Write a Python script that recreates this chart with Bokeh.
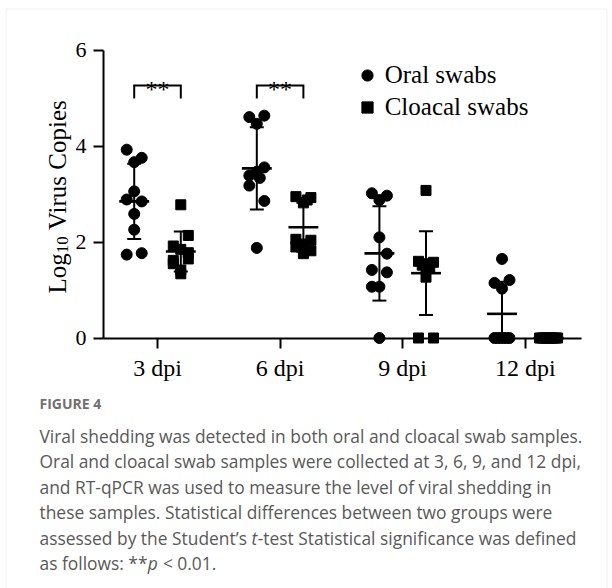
import numpy as np
from math import pi
from bokeh.plotting import figure
from bokeh.models import Range1d, FixedTicker, Label, Legend, LegendItem, BoxAnnotation
from bokeh.core.properties import value
from bokeh.embed import file_html
from bokeh.resources import INLINE

# ---------------- data ----------------
categories = ["3 dpi", "6 dpi", "9 dpi", "12 dpi"]
oral_3dpi = [3.93, 3.76, 3.67, 3.06, 2.89, 2.85, 2.59, 2.26, 1.74, 1.77]
oral_6dpi = [4.61, 4.64, 4.47, 3.56, 3.47, 3.39, 3.34, 3.18, 2.86, 1.88]
oral_9dpi = [3.02, 2.97, 2.88, 2.10, 1.76, 1.42, 1.37, 1.07, 1.07, 0.0]
oral_12dpi = [1.65, 1.15, 1.21, 1.03, 0.0, 0.0, 0.0, 0.0, 0.0, 0.0]
cloacal_3dpi = [2.78, 2.14, 1.92, 1.85, 1.78, 1.65, 1.62, 1.55, 1.42, 1.34]
cloacal_6dpi = [2.95, 2.93, 2.88, 2.82, 2.06, 2.04, 1.96, 1.90, 1.82, 1.76]
cloacal_9dpi = [3.08, 1.60, 1.58, 1.55, 1.52, 1.48, 1.45, 1.27, 0.0, 0.0]
cloacal_12dpi = [0.0, 0.0, 0.0, 0.0, 0.0, 0.0, 0.0, 0.0, 0.0, 0.0]
significance = ["**", "**", "", ""]
y_ticks = [0, 2, 4, 6]

# horizontal scatter slots of each point (layout, not data)
oral_slots = [[-1, 1, 0, 0, -1, 1, 0, 0, -1, 1],
              [-1, 1, 0, 1, 0, -1, 0.4, -1, 1, 0],
              [-1, 1, 0, 0, 1, -1, 1, -1, 0, 0],
              [0, -1, 1, 0, -1, -0.6, -0.2, 0.2, 0.6, 1]]
cloacal_slots = [[0, 1, -1, 0, 1, 1, -1, -1, 0, 0],
                 [-1, 1, 0.5, 0, -1, 1, 0, -1, 1, 0],
                 [0, -1, 1, 0, -0.5, 0.5, 0, 0, -1, 1],
                 [-1.2, -0.93, -0.67, -0.4, -0.13, 0.13, 0.4, 0.67, 0.93, 1.2]]

oral = [oral_3dpi, oral_6dpi, oral_9dpi, oral_12dpi]
cloacal = [cloacal_3dpi, cloacal_6dpi, cloacal_9dpi, cloacal_12dpi]

# ---------------- layout constants ----------------
W, H = 612, 588
PX_X, PX_Y = 122.6, 47.92          # pixels per data unit
X0_PX, Y0_PX = 157.0, 337.5        # page pixel of (category 0, value 0)
X_AX_START, X_AX_END = -0.4405, 3.457
OFF = 0.19      # group offset from category tick
SLOT = 0.0612   # jitter slot width
MEAN_HW = 0.122
CAP_HW = 0.057
SERIF = "Liberation Serif"
SANS = "Open Sans"


def sx(page_x):
    return page_x


def sy(page_y):
    return H - page_y


p = figure(width=W, height=H,
           x_range=Range1d(-X0_PX / PX_X, (W - X0_PX) / PX_X),
           y_range=Range1d(-(H - Y0_PX) / PX_Y, Y0_PX / PX_Y),
           output_backend="svg", toolbar_location=None,
           min_border_left=0, min_border_right=0, min_border_top=0, min_border_bottom=0)
p.background_fill_color = None
p.border_fill_color = None
p.outline_line_color = None
p.xgrid.visible = False
p.ygrid.visible = False

# light frame round the figure panel
p.add_layout(BoxAnnotation(left=sx(5.5), right=sx(606.5), top=sy(8.5), bottom=sy(620),
                           left_units="screen", right_units="screen",
                           top_units="screen", bottom_units="screen",
                           fill_alpha=0, line_color="#cfcfcf", line_width=1, level="underlay"))

# ---------------- points ----------------
ox, oy, cx, cy = [], [], [], []
for i in range(len(categories)):
    ox += [i - OFF + s * SLOT for s in oral_slots[i]]
    oy += list(oral[i])
    cx += [i + OFF + s * SLOT for s in cloacal_slots[i]]
    cy += list(cloacal[i])

r_oral = p.scatter(ox, oy, marker="circle", size=11, fill_color="black", line_color="black")
r_cl = p.scatter(cx, cy, marker="square", size=10, fill_color="black", line_color="black")

# ---------------- mean +/- SD ----------------
mx0, mx1, my = [], [], []
ex, ey0, ey1 = [], [], []
kx0, kx1, ky = [], [], []
for i in range(len(categories)):
    for vals, c in ((oral[i], i - OFF), (cloacal[i], i + OFF)):
        m = float(np.mean(vals))
        s = float(np.std(vals, ddof=1))
        mx0.append(c - MEAN_HW); mx1.append(c + MEAN_HW); my.append(m)
        if s > 0:
            lo = max(m - s, 0.0)
            ex.append(c); ey0.append(lo); ey1.append(m + s)
            kx0.append(c - CAP_HW); kx1.append(c + CAP_HW); ky.append(m + s)
            if m - s >= 0:
                kx0.append(c - CAP_HW); kx1.append(c + CAP_HW); ky.append(m - s)

p.segment(ex, ey0, ex, ey1, line_color="black", line_width=2)
p.segment(kx0, ky, kx1, ky, line_color="black", line_width=2)
p.segment(mx0, my, mx1, my, line_color="black", line_width=2.6)

# ---------------- significance brackets ----------------
BR_TOP, BR_BOT = 5.27, 5.0
bxs, bys, tx, tt = [], [], [], []
for i, sig in enumerate(significance):
    if sig:
        bxs.append([i - OFF, i - OFF, i + OFF, i + OFF])
        bys.append([BR_BOT, BR_TOP, BR_TOP, BR_BOT])
        tx.append(i)
        tt.append(sig)
p.multi_line(bxs, bys, line_color="black", line_width=2, line_join="miter")
p.text(tx, [BR_TOP - 0.07] * len(tx), text=tt, text_font=value(SERIF),
       text_font_size=value("24px"), text_align="center", text_baseline="alphabetic",
       text_color="black")

# ---------------- axes ----------------
p.yaxis.ticker = FixedTicker(ticks=y_ticks)
p.yaxis.bounds = (0, 6)
p.yaxis.fixed_location = X_AX_START
p.xaxis.ticker = FixedTicker(ticks=list(range(len(categories))))
p.xaxis.major_label_overrides = {i: c for i, c in enumerate(categories)}
p.xaxis.bounds = (X_AX_START, X_AX_END)
p.xaxis.fixed_location = 0
for ax in (p.xaxis, p.yaxis):
    ax.axis_line_width = 2
    ax.axis_line_color = "black"
    ax.major_tick_line_width = 2
    ax.major_tick_line_color = "black"
    ax.major_tick_in = 0
    ax.major_tick_out = 10
    ax.minor_tick_line_color = None
    ax.major_label_text_font = SERIF
    ax.major_label_text_color = "black"
    ax.major_label_standoff = 7
p.yaxis.major_label_text_font_size = "22px"
p.xaxis.major_label_text_font_size = "24px"


def lab(text, xpage, ypage, font, size, angle=0.0, style="normal", color="black"):
    p.add_layout(Label(x=sx(xpage), y=sy(ypage), x_units="screen", y_units="screen",
                       angle=angle, text=text, text_font=font, text_font_size=size,
                       text_font_style=style, text_color=color,
                       text_align="left", text_baseline="alphabetic"))


# y axis title: Log10 Virus Copies (with subscript)
lab("Log", 57, 293, SERIF, "25px", angle=pi / 2)
lab("10", 62, 252.7, SERIF, "17px", angle=pi / 2)
lab("Virus Copies", 57, 229.5, SERIF, "25px", angle=pi / 2)

# ---------------- legend ----------------
legend = Legend(items=[LegendItem(label="Oral swabs", renderers=[r_oral]),
                       LegendItem(label="Cloacal swabs", renderers=[r_cl])],
                location=(sx(352.7), sy(121)), glyph_width=28, glyph_height=28, spacing=4,
                label_standoff=4, padding=0, margin=0,
                label_text_font=SERIF, label_text_font_size="25px", label_text_color="black",
                border_line_color=None, background_fill_alpha=0)
p.add_layout(legend, "center")

# ---------------- caption ----------------
OS = {' ': 532, 'a': 1139, 'b': 1255, 'c': 975, 'd': 1255, 'e': 1149, 'f': 694, 'h': 1257,
      'l': 518, 'n': 1257, 'o': 1237, 's': 977, 't': 723, 'u': 1257, 'w': 1593, 'y': 1028,
      'S': 1122, '\u2019': 358, ':': 545, '*': 1128}


def tw(s, size):
    return sum(OS.get(ch, 1100) for ch in s) / 2048.0 * size


CAP_F = 17.4
CAP_COLOR = "#595959"
X0 = 39
lab("FIGURE 4", X0, 403, SANS, "14px", style="bold", color="#707070")

cap_lines = ["Viral shedding was detected in both oral and cloacal swab samples.",
             "Oral and cloacal swab samples were collected at 3, 6, 9, and 12 dpi,",
             "and RT-qPCR was used to measure the level of viral shedding in",
             "these samples. Statistical differences between two groups were"]
base = [435, 460.5, 486, 511.5, 537, 562.5]


def cap(text, xpage, ypage, style="normal"):
    lab(text, xpage, ypage, SANS, f"{CAP_F}px", style=style, color=CAP_COLOR)


for line, yb in zip(cap_lines, base):
    cap(line, X0, yb)

pre5 = "assessed by the Student\u2019s "
cap(pre5.strip(), X0, base[4])
x_t = X0 + tw(pre5, CAP_F)
cap("t", x_t, base[4], "italic")
cap("-test Statistical significance was defined", x_t + 720 / 2048 * CAP_F, base[4])

pre6 = "as follows: **"
cap(pre6, X0, base[5])
x_p = X0 + tw(pre6, CAP_F)
cap("p", x_p, base[5], "italic")
cap("< 0.01.", x_p + 1237 / 2048 * CAP_F + tw(" ", CAP_F), base[5])

open("out.html", "w").write(file_html(p, INLINE))
